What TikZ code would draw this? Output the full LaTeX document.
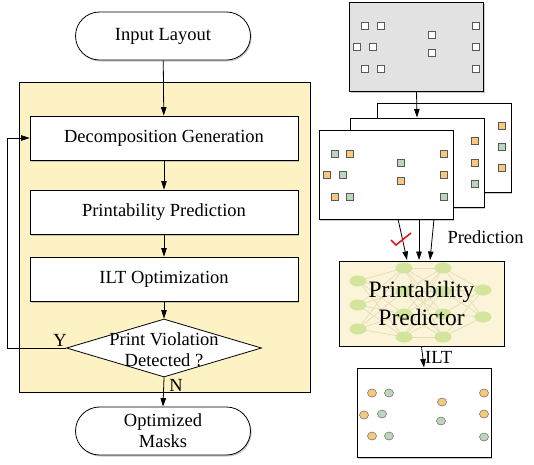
\documentclass[tikz,border=0pt]{standalone}
\usepackage{fontspec}
\setmainfont{Liberation Serif}
\usetikzlibrary{arrows.meta,shapes.geometric,shadows,calc}

\definecolor{panelyellow}{HTML}{FDF2C4}
\definecolor{predfill}{HTML}{FBF4D8}
\definecolor{sqorange}{HTML}{F6C97E}
\definecolor{sqgreen}{HTML}{BCD6BE}
\definecolor{netnode}{HTML}{D3E49C}
\definecolor{netedge}{HTML}{E4DDB8}
\definecolor{layoutgray}{HTML}{E2E2E2}
\definecolor{checkred}{HTML}{E3171D}

\tikzset{
  arr/.style={-{Triangle[length=8.5pt,width=5.5pt]}, line width=0.8pt},
  softshadow/.style={drop shadow={shadow xshift=1.2pt, shadow yshift=-1.5pt, opacity=0.35, fill=black!60}},
  term/.style={draw, line width=0.8pt, fill=white, rounded corners=24pt,
    minimum width=175pt, minimum height=48pt, align=center, softshadow},
  stepbox/.style={draw, line width=0.8pt, fill=white, minimum width=268pt,
    minimum height=44pt, softshadow},
  sheet/.style={draw, line width=1pt, fill=white, minimum width=134pt,
    minimum height=89pt, inner sep=0pt, softshadow},
  sq/.style={draw=black!65, line width=0.5pt, minimum size=7pt, inner sep=0pt},
  dot/.style={draw=black!60, line width=0.5pt, ellipse, minimum width=9pt,
    minimum height=8pt, inner sep=0pt},
  nn/.style={ellipse, fill=netnode, minimum width=17pt, minimum height=11pt, inner sep=0pt},
}

\begin{document}
\begin{tikzpicture}[x=1pt,y=-1pt, font=\fontsize{18.5}{21}\selectfont]
\useasboundingbox (0,0) rectangle (534,464);

% ---------------- flow on the left ----------------
\node[draw, line width=0.6pt, fill=panelyellow, minimum width=291pt,
  minimum height=310pt, inner sep=0pt] (panel) at (164.5,237) {};

\node[term] (in) at (163,36) {Input Layout};
\node[stepbox] (dg) at (164,138) {Decomposition Generation};
\node[stepbox] (pr) at (164,212) {Printability Prediction};
\node[stepbox] (ilt) at (164,279) {ILT Optimization};
\node[diamond, draw, line width=0.8pt, fill=white, minimum width=195pt,
  minimum height=58pt, inner sep=0pt] (dec) at (164,348) {};
\node[align=center, inner sep=0pt] at (164,350) {Print Violation\\Detected ?};
\node[term] (out) at (163,431) {Optimized\\Masks};

\draw[arr] (in) -- (dg);
\draw[arr] (dg) -- (pr);
\draw[arr] (pr) -- (ilt);
\draw[arr] (ilt) -- (dec);
\draw[arr] (dec.south) -- (out.north);
\draw[arr] (dec.west) -- ++(-58.5,0) |- (dg.west);
\node at (60,340) {Y};
\node at (176,385) {N};

% ---------------- layout and decompositions ----------------
\node[sheet, fill=layoutgray] (lay) at (416.5,46.5) {};
\foreach \p in {(365,26),(381,26),(476,26),(432,35),(357,47),(373,47),
                (476,47),(432,53),(365,69),(381,69),(476,69)}
  \node[sq, fill=white] at \p {};

\node[sheet] (bs) at (444,147.5) {};
\node[sq, fill=sqorange] at (502,126) {};
\node[sq, fill=sqgreen]  at (502,147) {};
\node[sq, fill=sqorange] at (502,168) {};

\node[sheet] (ms) at (417,162.5) {};
\node[sq, fill=sqorange] at (475,141) {};
\node[sq, fill=sqorange] at (475,163) {};
\node[sq, fill=sqgreen]  at (475,184) {};

\node[sheet] (fs) at (386,175) {};
\foreach \p in {(335,154),(401,163),(343,175),(350,197),(444,197)}
  \node[sq, fill=sqgreen] at \p {};
\foreach \p in {(350,154),(444,154),(327,175),(444,175),(401,181),(335,197)}
  \node[sq, fill=sqorange] at \p {};

\draw[arr] (lay.south) -- (ms.north);

% ---------------- predictor ----------------
\node[draw, line width=0.8pt, fill=predfill, minimum width=165pt,
  minimum height=85pt, inner sep=0pt] (pp) at (421.5,303.5) {};
\begin{scope}
  \clip (pp.south west) rectangle (pp.north east);
  \foreach \a in {281,305,329}
    \foreach \b in {268,291,314,337}
      \draw[netedge, line width=0.7pt] (358,\a) -- (404,\b);
  \foreach \a in {268,291,314,337}
    \foreach \b in {268,291,314,337}
      \draw[netedge, line width=0.7pt] (404,\a) -- (443,\b);
  \foreach \a in {268,291,314,337}
    \foreach \b in {290,317}
      \draw[netedge, line width=0.7pt] (443,\a) -- (483,\b);
  \foreach \y in {281,305,329} \node[nn] at (358,\y) {};
  \foreach \y in {268,291,314,337} \node[nn] at (404,\y) {};
  \foreach \y in {268,291,314,337} \node[nn] at (443,\y) {};
  \foreach \y in {290,317} \node[nn] at (483,\y) {};
\end{scope}
\node[align=center, font=\fontsize{23.5}{28}\selectfont] at (pp) {Printability\\Predictor};

\coordinate (s1) at (398,219);
\coordinate (s2) at (419,219);
\coordinate (s3) at (434,219);
\coordinate (e1) at (407,260);
\coordinate (e2) at (419,260);
\coordinate (e3) at (430,260);
\draw[arr] (s1) -- (e1);
\draw[arr] (s2) -- (e2);
\draw[arr] (s3) -- (e3);
\draw[checkred, line width=1.6pt] (391,240) -- (396,245) -- (411,233);
\node[anchor=west] at (444,237) {Prediction};

% ---------------- optimized masks ----------------
\node[sheet] (res) at (424,412.5) {};
\draw[arr] (pp.south) -- (res.north);
\node[anchor=west, inner sep=1pt] at (424,357) {ILT};
\foreach \p in {(372,393),(442,402),(484,393),(364,415),(484,414),(372,436)}
  \node[dot, fill=sqorange] at \p {};
\foreach \p in {(389,393),(382,414),(441,421),(389,436),(484,437)}
  \node[dot, fill=sqgreen] at \p {};
\end{tikzpicture}
\end{document}
